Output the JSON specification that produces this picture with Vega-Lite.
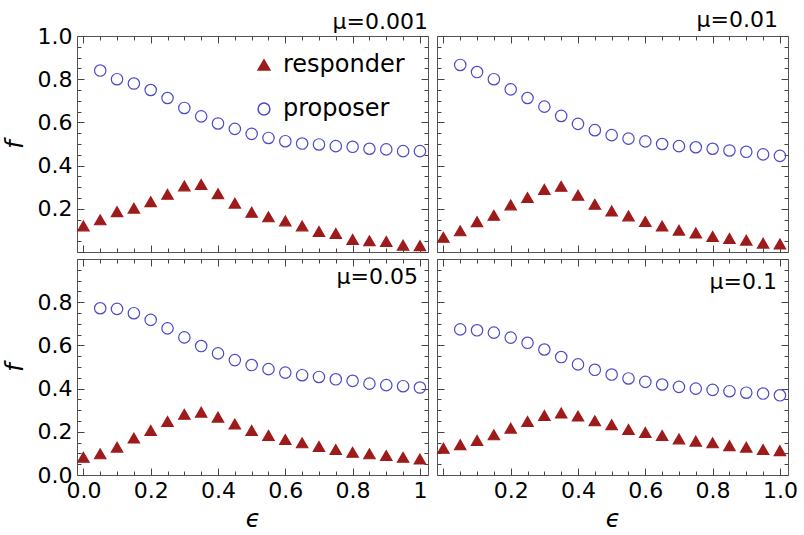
{
  "$schema": "https://vega.github.io/schema/vega-lite/v6.json",
  "padding": {"left": 2, "top": 8, "right": 5, "bottom": 5},
  "background": "white",
  "datasets": {
    "d": [
      {"mu":"0.001","type":"proposer","eps":0.05,"f":0.84},{"mu":"0.001","type":"proposer","eps":0.1,"f":0.8},{"mu":"0.001","type":"proposer","eps":0.15,"f":0.78},{"mu":"0.001","type":"proposer","eps":0.2,"f":0.75},{"mu":"0.001","type":"proposer","eps":0.25,"f":0.713},{"mu":"0.001","type":"proposer","eps":0.3,"f":0.667},{"mu":"0.001","type":"proposer","eps":0.35,"f":0.628},{"mu":"0.001","type":"proposer","eps":0.4,"f":0.595},{"mu":"0.001","type":"proposer","eps":0.45,"f":0.57},{"mu":"0.001","type":"proposer","eps":0.5,"f":0.547},{"mu":"0.001","type":"proposer","eps":0.55,"f":0.528},{"mu":"0.001","type":"proposer","eps":0.6,"f":0.513},{"mu":"0.001","type":"proposer","eps":0.65,"f":0.502},{"mu":"0.001","type":"proposer","eps":0.7,"f":0.498},{"mu":"0.001","type":"proposer","eps":0.75,"f":0.49},{"mu":"0.001","type":"proposer","eps":0.8,"f":0.487},{"mu":"0.001","type":"proposer","eps":0.85,"f":0.478},{"mu":"0.001","type":"proposer","eps":0.9,"f":0.475},{"mu":"0.001","type":"proposer","eps":0.95,"f":0.467},{"mu":"0.001","type":"proposer","eps":1.0,"f":0.467},
      {"mu":"0.001","type":"responder","eps":0,"f":0.121},{"mu":"0.001","type":"responder","eps":0.05,"f":0.149},{"mu":"0.001","type":"responder","eps":0.1,"f":0.187},{"mu":"0.001","type":"responder","eps":0.15,"f":0.203},{"mu":"0.001","type":"responder","eps":0.2,"f":0.233},{"mu":"0.001","type":"responder","eps":0.25,"f":0.267},{"mu":"0.001","type":"responder","eps":0.3,"f":0.306},{"mu":"0.001","type":"responder","eps":0.35,"f":0.313},{"mu":"0.001","type":"responder","eps":0.4,"f":0.27},{"mu":"0.001","type":"responder","eps":0.45,"f":0.226},{"mu":"0.001","type":"responder","eps":0.5,"f":0.184},{"mu":"0.001","type":"responder","eps":0.55,"f":0.163},{"mu":"0.001","type":"responder","eps":0.6,"f":0.144},{"mu":"0.001","type":"responder","eps":0.65,"f":0.121},{"mu":"0.001","type":"responder","eps":0.7,"f":0.095},{"mu":"0.001","type":"responder","eps":0.75,"f":0.086},{"mu":"0.001","type":"responder","eps":0.8,"f":0.058},{"mu":"0.001","type":"responder","eps":0.85,"f":0.052},{"mu":"0.001","type":"responder","eps":0.9,"f":0.049},{"mu":"0.001","type":"responder","eps":0.95,"f":0.032},{"mu":"0.001","type":"responder","eps":1.0,"f":0.029},
      {"mu":"0.01","type":"proposer","eps":0.05,"f":0.866},{"mu":"0.01","type":"proposer","eps":0.1,"f":0.833},{"mu":"0.01","type":"proposer","eps":0.15,"f":0.8},{"mu":"0.01","type":"proposer","eps":0.2,"f":0.753},{"mu":"0.01","type":"proposer","eps":0.25,"f":0.713},{"mu":"0.01","type":"proposer","eps":0.3,"f":0.673},{"mu":"0.01","type":"proposer","eps":0.35,"f":0.63},{"mu":"0.01","type":"proposer","eps":0.4,"f":0.593},{"mu":"0.01","type":"proposer","eps":0.45,"f":0.564},{"mu":"0.01","type":"proposer","eps":0.5,"f":0.541},{"mu":"0.01","type":"proposer","eps":0.55,"f":0.525},{"mu":"0.01","type":"proposer","eps":0.6,"f":0.512},{"mu":"0.01","type":"proposer","eps":0.65,"f":0.5},{"mu":"0.01","type":"proposer","eps":0.7,"f":0.49},{"mu":"0.01","type":"proposer","eps":0.75,"f":0.485},{"mu":"0.01","type":"proposer","eps":0.8,"f":0.478},{"mu":"0.01","type":"proposer","eps":0.85,"f":0.47},{"mu":"0.01","type":"proposer","eps":0.9,"f":0.464},{"mu":"0.01","type":"proposer","eps":0.95,"f":0.452},{"mu":"0.01","type":"proposer","eps":1.0,"f":0.445},
      {"mu":"0.01","type":"responder","eps":0,"f":0.068},{"mu":"0.01","type":"responder","eps":0.05,"f":0.098},{"mu":"0.01","type":"responder","eps":0.1,"f":0.14},{"mu":"0.01","type":"responder","eps":0.15,"f":0.17},{"mu":"0.01","type":"responder","eps":0.2,"f":0.218},{"mu":"0.01","type":"responder","eps":0.25,"f":0.252},{"mu":"0.01","type":"responder","eps":0.3,"f":0.29},{"mu":"0.01","type":"responder","eps":0.35,"f":0.304},{"mu":"0.01","type":"responder","eps":0.4,"f":0.263},{"mu":"0.01","type":"responder","eps":0.45,"f":0.221},{"mu":"0.01","type":"responder","eps":0.5,"f":0.19},{"mu":"0.01","type":"responder","eps":0.55,"f":0.167},{"mu":"0.01","type":"responder","eps":0.6,"f":0.141},{"mu":"0.01","type":"responder","eps":0.65,"f":0.12},{"mu":"0.01","type":"responder","eps":0.7,"f":0.101},{"mu":"0.01","type":"responder","eps":0.75,"f":0.088},{"mu":"0.01","type":"responder","eps":0.8,"f":0.072},{"mu":"0.01","type":"responder","eps":0.85,"f":0.063},{"mu":"0.01","type":"responder","eps":0.9,"f":0.055},{"mu":"0.01","type":"responder","eps":0.95,"f":0.041},{"mu":"0.01","type":"responder","eps":1.0,"f":0.037},
      {"mu":"0.05","type":"proposer","eps":0.05,"f":0.772},{"mu":"0.05","type":"proposer","eps":0.1,"f":0.769},{"mu":"0.05","type":"proposer","eps":0.15,"f":0.749},{"mu":"0.05","type":"proposer","eps":0.2,"f":0.718},{"mu":"0.05","type":"proposer","eps":0.25,"f":0.679},{"mu":"0.05","type":"proposer","eps":0.3,"f":0.637},{"mu":"0.05","type":"proposer","eps":0.35,"f":0.597},{"mu":"0.05","type":"proposer","eps":0.4,"f":0.563},{"mu":"0.05","type":"proposer","eps":0.45,"f":0.532},{"mu":"0.05","type":"proposer","eps":0.5,"f":0.509},{"mu":"0.05","type":"proposer","eps":0.55,"f":0.49},{"mu":"0.05","type":"proposer","eps":0.6,"f":0.474},{"mu":"0.05","type":"proposer","eps":0.65,"f":0.462},{"mu":"0.05","type":"proposer","eps":0.7,"f":0.454},{"mu":"0.05","type":"proposer","eps":0.75,"f":0.443},{"mu":"0.05","type":"proposer","eps":0.8,"f":0.436},{"mu":"0.05","type":"proposer","eps":0.85,"f":0.423},{"mu":"0.05","type":"proposer","eps":0.9,"f":0.416},{"mu":"0.05","type":"proposer","eps":0.95,"f":0.411},{"mu":"0.05","type":"proposer","eps":1.0,"f":0.405},
      {"mu":"0.05","type":"responder","eps":0,"f":0.082},{"mu":"0.05","type":"responder","eps":0.05,"f":0.098},{"mu":"0.05","type":"responder","eps":0.1,"f":0.129},{"mu":"0.05","type":"responder","eps":0.15,"f":0.171},{"mu":"0.05","type":"responder","eps":0.2,"f":0.206},{"mu":"0.05","type":"responder","eps":0.25,"f":0.248},{"mu":"0.05","type":"responder","eps":0.3,"f":0.281},{"mu":"0.05","type":"responder","eps":0.35,"f":0.291},{"mu":"0.05","type":"responder","eps":0.4,"f":0.268},{"mu":"0.05","type":"responder","eps":0.45,"f":0.236},{"mu":"0.05","type":"responder","eps":0.5,"f":0.206},{"mu":"0.05","type":"responder","eps":0.55,"f":0.183},{"mu":"0.05","type":"responder","eps":0.6,"f":0.164},{"mu":"0.05","type":"responder","eps":0.65,"f":0.149},{"mu":"0.05","type":"responder","eps":0.7,"f":0.132},{"mu":"0.05","type":"responder","eps":0.75,"f":0.118},{"mu":"0.05","type":"responder","eps":0.8,"f":0.105},{"mu":"0.05","type":"responder","eps":0.85,"f":0.098},{"mu":"0.05","type":"responder","eps":0.9,"f":0.09},{"mu":"0.05","type":"responder","eps":0.95,"f":0.082},{"mu":"0.05","type":"responder","eps":1.0,"f":0.074},
      {"mu":"0.1","type":"proposer","eps":0.05,"f":0.674},{"mu":"0.1","type":"proposer","eps":0.1,"f":0.67},{"mu":"0.1","type":"proposer","eps":0.15,"f":0.659},{"mu":"0.1","type":"proposer","eps":0.2,"f":0.636},{"mu":"0.1","type":"proposer","eps":0.25,"f":0.612},{"mu":"0.1","type":"proposer","eps":0.3,"f":0.581},{"mu":"0.1","type":"proposer","eps":0.35,"f":0.546},{"mu":"0.1","type":"proposer","eps":0.4,"f":0.512},{"mu":"0.1","type":"proposer","eps":0.45,"f":0.487},{"mu":"0.1","type":"proposer","eps":0.5,"f":0.465},{"mu":"0.1","type":"proposer","eps":0.55,"f":0.447},{"mu":"0.1","type":"proposer","eps":0.6,"f":0.431},{"mu":"0.1","type":"proposer","eps":0.65,"f":0.419},{"mu":"0.1","type":"proposer","eps":0.7,"f":0.408},{"mu":"0.1","type":"proposer","eps":0.75,"f":0.4},{"mu":"0.1","type":"proposer","eps":0.8,"f":0.394},{"mu":"0.1","type":"proposer","eps":0.85,"f":0.388},{"mu":"0.1","type":"proposer","eps":0.9,"f":0.381},{"mu":"0.1","type":"proposer","eps":0.95,"f":0.377},{"mu":"0.1","type":"proposer","eps":1.0,"f":0.369},
      {"mu":"0.1","type":"responder","eps":0,"f":0.124},{"mu":"0.1","type":"responder","eps":0.05,"f":0.14},{"mu":"0.1","type":"responder","eps":0.1,"f":0.16},{"mu":"0.1","type":"responder","eps":0.15,"f":0.186},{"mu":"0.1","type":"responder","eps":0.2,"f":0.217},{"mu":"0.1","type":"responder","eps":0.25,"f":0.248},{"mu":"0.1","type":"responder","eps":0.3,"f":0.276},{"mu":"0.1","type":"responder","eps":0.35,"f":0.287},{"mu":"0.1","type":"responder","eps":0.4,"f":0.273},{"mu":"0.1","type":"responder","eps":0.45,"f":0.251},{"mu":"0.1","type":"responder","eps":0.5,"f":0.233},{"mu":"0.1","type":"responder","eps":0.55,"f":0.211},{"mu":"0.1","type":"responder","eps":0.6,"f":0.197},{"mu":"0.1","type":"responder","eps":0.65,"f":0.183},{"mu":"0.1","type":"responder","eps":0.7,"f":0.167},{"mu":"0.1","type":"responder","eps":0.75,"f":0.157},{"mu":"0.1","type":"responder","eps":0.8,"f":0.149},{"mu":"0.1","type":"responder","eps":0.85,"f":0.136},{"mu":"0.1","type":"responder","eps":0.9,"f":0.129},{"mu":"0.1","type":"responder","eps":0.95,"f":0.118},{"mu":"0.1","type":"responder","eps":1.0,"f":0.113}
    ]
  },
  "columns": 2,
  "spacing": {"row": 7, "column": 9},
  "bounds": "flush",
  "concat": [
    {
      "width": 351, "height": 216,
      "data": {"name": "d"},
      "transform": [{"filter": "datum.mu == '0.001'"}],
      "title": {"text": "μ=0.001", "anchor": "end", "frame": "group", "baseline": "alphabetic", "offset": 0, "dy": 26, "dx": 0, "fontSize": 22, "fontWeight": "normal", "font": "DejaVu Sans", "color": "#000"},
      "layer": [
        {
          "mark": {"type": "point", "size": 130, "strokeWidth": 1.2, "opacity": 1},
          "encoding": {
            "x": {"field": "eps", "type": "quantitative", "scale": {"domain": [-0.019, 1.024], "nice": false, "zero": false}, "axis": null},
            "y": {"field": "f", "type": "quantitative", "scale": {"domain": [0, 1], "nice": false, "zero": false}, "axis": {"orient": "left", "values": [0.2, 0.4, 0.6, 0.8, 1.0], "format": ".1f", "ticks": false, "domain": false, "grid": false, "labelFlush": false, "labelPadding": 5, "title": "f", "titlePadding": 10}},
            "shape": {"field": "type", "type": "nominal", "scale": {"domain": ["responder", "proposer"], "range": ["triangle-up", "circle"]}, "legend": {"title": null, "orient": "none", "legendX": 175, "legendY": 17, "labelFontSize": 24, "labelFont": "DejaVu Sans", "rowPadding": 20, "symbolSize": 140, "symbolStrokeWidth": 1.5, "labelOffset": 7, "encode": {"symbols": {"update": {"size": {"signal": "datum.value == 'proposer' ? 75 : 140"}}}}}},
            "fill": {"field": "type", "type": "nominal", "scale": {"domain": ["responder", "proposer"], "range": ["#9e1b1b", "transparent"]}, "legend": {"title": null, "orient": "none", "legendX": 175, "legendY": 17, "labelFontSize": 24, "labelFont": "DejaVu Sans", "rowPadding": 20, "symbolSize": 140, "symbolStrokeWidth": 1.5, "labelOffset": 7, "encode": {"symbols": {"update": {"size": {"signal": "datum.value == 'proposer' ? 75 : 140"}}}}}},
            "stroke": {"field": "type", "type": "nominal", "scale": {"domain": ["responder", "proposer"], "range": ["#9e1b1b", "#4b4bc8"]}, "legend": {"title": null, "orient": "none", "legendX": 175, "legendY": 17, "labelFontSize": 24, "labelFont": "DejaVu Sans", "rowPadding": 20, "symbolSize": 140, "symbolStrokeWidth": 1.5, "labelOffset": 7, "encode": {"symbols": {"update": {"size": {"signal": "datum.value == 'proposer' ? 75 : 140"}}}}}}
          }
        },
        {
          "mark": {"type": "point", "opacity": 0},
          "encoding": {
            "x": {"field": "eps", "type": "quantitative", "axis": {"orient": "bottom", "values": [0,0.05,0.1,0.15,0.2,0.25,0.3,0.35,0.4,0.45,0.5,0.55,0.6,0.65,0.7,0.75,0.8,0.85,0.9,0.95,1], "labels": false, "domain": false, "grid": false, "title": null, "tickSize": {"condition": {"test": "abs(datum.value*5 - round(datum.value*5)) < 0.001", "value": -7}, "value": -4}}},
            "y": {"field": "f", "type": "quantitative", "axis": {"orient": "left", "values": [0,0.05,0.1,0.15,0.2,0.25,0.3,0.35,0.4,0.45,0.5,0.55,0.6,0.65,0.7,0.75,0.8,0.85,0.9,0.95,1], "labels": false, "domain": false, "grid": false, "title": null, "tickSize": {"condition": {"test": "abs(datum.value*5 - round(datum.value*5)) < 0.001", "value": -7}, "value": -4}}}
          }
        },
        {
          "mark": {"type": "point", "opacity": 0},
          "encoding": {
            "x": {"field": "eps", "type": "quantitative", "axis": {"orient": "top", "values": [0,0.05,0.1,0.15,0.2,0.25,0.3,0.35,0.4,0.45,0.5,0.55,0.6,0.65,0.7,0.75,0.8,0.85,0.9,0.95,1], "labels": false, "domain": false, "grid": false, "title": null, "tickSize": {"condition": {"test": "abs(datum.value*5 - round(datum.value*5)) < 0.001", "value": -7}, "value": -4}}},
            "y": {"field": "f", "type": "quantitative", "axis": {"orient": "right", "values": [0,0.05,0.1,0.15,0.2,0.25,0.3,0.35,0.4,0.45,0.5,0.55,0.6,0.65,0.7,0.75,0.8,0.85,0.9,0.95,1], "labels": false, "domain": false, "grid": false, "title": null, "tickSize": {"condition": {"test": "abs(datum.value*5 - round(datum.value*5)) < 0.001", "value": -7}, "value": -4}}}
          }
        }
      ],
      "resolve": {"axis": {"x": "independent", "y": "independent"}}
    },
    {
      "width": 351, "height": 216,
      "data": {"name": "d"},
      "transform": [{"filter": "datum.mu == '0.01'"}],
      "title": {"text": "μ=0.01", "anchor": "end", "frame": "group", "baseline": "alphabetic", "offset": 0, "dy": 13, "dx": -10, "fontSize": 22, "fontWeight": "normal", "font": "DejaVu Sans", "color": "#000"},
      "layer": [
        {
          "mark": {"type": "point", "size": 130, "strokeWidth": 1.2, "opacity": 1},
          "encoding": {
            "x": {"field": "eps", "type": "quantitative", "scale": {"domain": [-0.019, 1.024], "nice": false, "zero": false}, "axis": null},
            "y": {"field": "f", "type": "quantitative", "scale": {"domain": [0, 1], "nice": false, "zero": false}, "axis": null},
            "shape": {"field": "type", "type": "nominal", "scale": {"domain": ["responder", "proposer"], "range": ["triangle-up", "circle"]}, "legend": null},
            "fill": {"field": "type", "type": "nominal", "scale": {"domain": ["responder", "proposer"], "range": ["#9e1b1b", "transparent"]}, "legend": null},
            "stroke": {"field": "type", "type": "nominal", "scale": {"domain": ["responder", "proposer"], "range": ["#9e1b1b", "#4b4bc8"]}, "legend": null}
          }
        },
        {
          "mark": {"type": "point", "opacity": 0},
          "encoding": {
            "x": {"field": "eps", "type": "quantitative", "axis": {"orient": "bottom", "values": [0,0.05,0.1,0.15,0.2,0.25,0.3,0.35,0.4,0.45,0.5,0.55,0.6,0.65,0.7,0.75,0.8,0.85,0.9,0.95,1], "labels": false, "domain": false, "grid": false, "title": null, "tickSize": {"condition": {"test": "abs(datum.value*5 - round(datum.value*5)) < 0.001", "value": -7}, "value": -4}}},
            "y": {"field": "f", "type": "quantitative", "axis": {"orient": "left", "values": [0,0.05,0.1,0.15,0.2,0.25,0.3,0.35,0.4,0.45,0.5,0.55,0.6,0.65,0.7,0.75,0.8,0.85,0.9,0.95,1], "labels": false, "domain": false, "grid": false, "title": null, "tickSize": {"condition": {"test": "abs(datum.value*5 - round(datum.value*5)) < 0.001", "value": -7}, "value": -4}}}
          }
        },
        {
          "mark": {"type": "point", "opacity": 0},
          "encoding": {
            "x": {"field": "eps", "type": "quantitative", "axis": {"orient": "top", "values": [0,0.05,0.1,0.15,0.2,0.25,0.3,0.35,0.4,0.45,0.5,0.55,0.6,0.65,0.7,0.75,0.8,0.85,0.9,0.95,1], "labels": false, "domain": false, "grid": false, "title": null, "tickSize": {"condition": {"test": "abs(datum.value*5 - round(datum.value*5)) < 0.001", "value": -7}, "value": -4}}},
            "y": {"field": "f", "type": "quantitative", "axis": {"orient": "right", "values": [0,0.05,0.1,0.15,0.2,0.25,0.3,0.35,0.4,0.45,0.5,0.55,0.6,0.65,0.7,0.75,0.8,0.85,0.9,0.95,1], "labels": false, "domain": false, "grid": false, "title": null, "tickSize": {"condition": {"test": "abs(datum.value*5 - round(datum.value*5)) < 0.001", "value": -7}, "value": -4}}}
          }
        }
      ],
      "resolve": {"axis": {"x": "independent", "y": "independent"}}
    },
    {
      "width": 351, "height": 216,
      "data": {"name": "d"},
      "transform": [{"filter": "datum.mu == '0.05'"}],
      "title": {"text": "μ=0.05", "anchor": "end", "frame": "group", "baseline": "alphabetic", "offset": 0, "dy": 47, "dx": -10, "fontSize": 22, "fontWeight": "normal", "font": "DejaVu Sans", "color": "#000"},
      "layer": [
        {
          "mark": {"type": "point", "size": 130, "strokeWidth": 1.2, "opacity": 1},
          "encoding": {
            "x": {"field": "eps", "type": "quantitative", "scale": {"domain": [-0.019, 1.024], "nice": false, "zero": false}, "axis": {"orient": "bottom", "values": [0, 0.2, 0.4, 0.6, 0.8, 1], "labelExpr": "datum.value == 1 ? '1' : format(datum.value, '.1f')", "ticks": false, "domain": false, "grid": false, "labelFlush": false, "labelPadding": 5, "title": "ϵ", "titlePadding": 6}},
            "y": {"field": "f", "type": "quantitative", "scale": {"domain": [0, 1], "nice": false, "zero": false}, "axis": {"orient": "left", "values": [0, 0.2, 0.4, 0.6, 0.8], "format": ".1f", "ticks": false, "domain": false, "grid": false, "labelFlush": false, "labelPadding": 5, "title": "f", "titlePadding": 10}},
            "shape": {"field": "type", "type": "nominal", "scale": {"domain": ["responder", "proposer"], "range": ["triangle-up", "circle"]}, "legend": null},
            "fill": {"field": "type", "type": "nominal", "scale": {"domain": ["responder", "proposer"], "range": ["#9e1b1b", "transparent"]}, "legend": null},
            "stroke": {"field": "type", "type": "nominal", "scale": {"domain": ["responder", "proposer"], "range": ["#9e1b1b", "#4b4bc8"]}, "legend": null}
          }
        },
        {
          "mark": {"type": "point", "opacity": 0},
          "encoding": {
            "x": {"field": "eps", "type": "quantitative", "axis": {"orient": "bottom", "values": [0,0.05,0.1,0.15,0.2,0.25,0.3,0.35,0.4,0.45,0.5,0.55,0.6,0.65,0.7,0.75,0.8,0.85,0.9,0.95,1], "labels": false, "domain": false, "grid": false, "title": null, "tickSize": {"condition": {"test": "abs(datum.value*5 - round(datum.value*5)) < 0.001", "value": -7}, "value": -4}}},
            "y": {"field": "f", "type": "quantitative", "axis": {"orient": "left", "values": [0,0.05,0.1,0.15,0.2,0.25,0.3,0.35,0.4,0.45,0.5,0.55,0.6,0.65,0.7,0.75,0.8,0.85,0.9,0.95,1], "labels": false, "domain": false, "grid": false, "title": null, "tickSize": {"condition": {"test": "abs(datum.value*5 - round(datum.value*5)) < 0.001", "value": -7}, "value": -4}}}
          }
        },
        {
          "mark": {"type": "point", "opacity": 0},
          "encoding": {
            "x": {"field": "eps", "type": "quantitative", "axis": {"orient": "top", "values": [0,0.05,0.1,0.15,0.2,0.25,0.3,0.35,0.4,0.45,0.5,0.55,0.6,0.65,0.7,0.75,0.8,0.85,0.9,0.95,1], "labels": false, "domain": false, "grid": false, "title": null, "tickSize": {"condition": {"test": "abs(datum.value*5 - round(datum.value*5)) < 0.001", "value": -7}, "value": -4}}},
            "y": {"field": "f", "type": "quantitative", "axis": {"orient": "right", "values": [0,0.05,0.1,0.15,0.2,0.25,0.3,0.35,0.4,0.45,0.5,0.55,0.6,0.65,0.7,0.75,0.8,0.85,0.9,0.95,1], "labels": false, "domain": false, "grid": false, "title": null, "tickSize": {"condition": {"test": "abs(datum.value*5 - round(datum.value*5)) < 0.001", "value": -7}, "value": -4}}}
          }
        }
      ],
      "resolve": {"axis": {"x": "independent", "y": "independent"}}
    },
    {
      "width": 351, "height": 216,
      "data": {"name": "d"},
      "transform": [{"filter": "datum.mu == '0.1'"}],
      "title": {"text": "μ=0.1", "anchor": "end", "frame": "group", "baseline": "alphabetic", "offset": 0, "dy": 52, "dx": -11, "fontSize": 22, "fontWeight": "normal", "font": "DejaVu Sans", "color": "#000"},
      "layer": [
        {
          "mark": {"type": "point", "size": 130, "strokeWidth": 1.2, "opacity": 1},
          "encoding": {
            "x": {"field": "eps", "type": "quantitative", "scale": {"domain": [-0.019, 1.024], "nice": false, "zero": false}, "axis": {"orient": "bottom", "values": [0.2, 0.4, 0.6, 0.8, 1], "format": ".1f", "ticks": false, "domain": false, "grid": false, "labelFlush": false, "labelPadding": 5, "title": "ϵ", "titlePadding": 6}},
            "y": {"field": "f", "type": "quantitative", "scale": {"domain": [0, 1], "nice": false, "zero": false}, "axis": null},
            "shape": {"field": "type", "type": "nominal", "scale": {"domain": ["responder", "proposer"], "range": ["triangle-up", "circle"]}, "legend": null},
            "fill": {"field": "type", "type": "nominal", "scale": {"domain": ["responder", "proposer"], "range": ["#9e1b1b", "transparent"]}, "legend": null},
            "stroke": {"field": "type", "type": "nominal", "scale": {"domain": ["responder", "proposer"], "range": ["#9e1b1b", "#4b4bc8"]}, "legend": null}
          }
        },
        {
          "mark": {"type": "point", "opacity": 0},
          "encoding": {
            "x": {"field": "eps", "type": "quantitative", "axis": {"orient": "bottom", "values": [0,0.05,0.1,0.15,0.2,0.25,0.3,0.35,0.4,0.45,0.5,0.55,0.6,0.65,0.7,0.75,0.8,0.85,0.9,0.95,1], "labels": false, "domain": false, "grid": false, "title": null, "tickSize": {"condition": {"test": "abs(datum.value*5 - round(datum.value*5)) < 0.001", "value": -7}, "value": -4}}},
            "y": {"field": "f", "type": "quantitative", "axis": {"orient": "left", "values": [0,0.05,0.1,0.15,0.2,0.25,0.3,0.35,0.4,0.45,0.5,0.55,0.6,0.65,0.7,0.75,0.8,0.85,0.9,0.95,1], "labels": false, "domain": false, "grid": false, "title": null, "tickSize": {"condition": {"test": "abs(datum.value*5 - round(datum.value*5)) < 0.001", "value": -7}, "value": -4}}}
          }
        },
        {
          "mark": {"type": "point", "opacity": 0},
          "encoding": {
            "x": {"field": "eps", "type": "quantitative", "axis": {"orient": "top", "values": [0,0.05,0.1,0.15,0.2,0.25,0.3,0.35,0.4,0.45,0.5,0.55,0.6,0.65,0.7,0.75,0.8,0.85,0.9,0.95,1], "labels": false, "domain": false, "grid": false, "title": null, "tickSize": {"condition": {"test": "abs(datum.value*5 - round(datum.value*5)) < 0.001", "value": -7}, "value": -4}}},
            "y": {"field": "f", "type": "quantitative", "axis": {"orient": "right", "values": [0,0.05,0.1,0.15,0.2,0.25,0.3,0.35,0.4,0.45,0.5,0.55,0.6,0.65,0.7,0.75,0.8,0.85,0.9,0.95,1], "labels": false, "domain": false, "grid": false, "title": null, "tickSize": {"condition": {"test": "abs(datum.value*5 - round(datum.value*5)) < 0.001", "value": -7}, "value": -4}}}
          }
        }
      ],
      "resolve": {"axis": {"x": "independent", "y": "independent"}}
    }
  ],
  "config": {
    "view": {"stroke": "#555", "strokeWidth": 1},
    "font": "DejaVu Sans",
    "axis": {"labelFont": "DejaVu Sans", "labelFontSize": 22, "labelColor": "#000", "titleFont": "DejaVu Sans", "titleFontSize": 24, "titleFontStyle": "italic", "titleFontWeight": "normal", "titleColor": "#000", "tickColor": "#444", "tickWidth": 1}
  }
}
